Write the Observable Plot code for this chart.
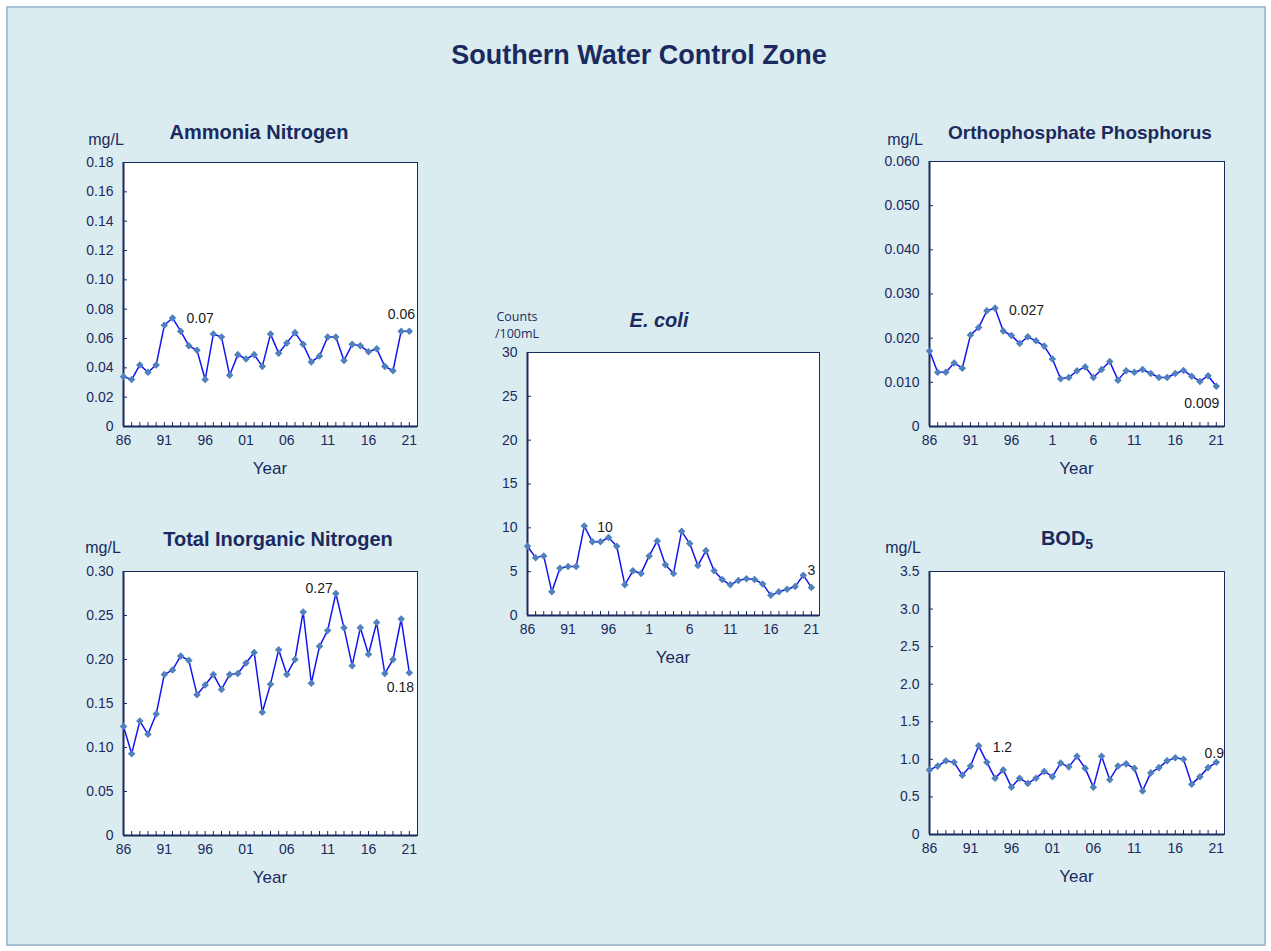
<!DOCTYPE html>
<html><head><meta charset="utf-8">
<script src="https://cdn.jsdelivr.net/npm/d3@7"></script>
<script src="https://cdn.jsdelivr.net/npm/@observablehq/plot@0.6"></script>
<style>
body{margin:0;background:#fff;font-family:"Liberation Sans",Arial,sans-serif;}
#bg{position:absolute;left:6px;top:6px;width:1256px;height:936px;background:#daecef;border:2px solid #a7c1d6;}
.t{position:absolute;color:#1b2a5e;white-space:nowrap;transform:translate(-50%,-50%);line-height:1;}
.b{font-weight:bold;}
</style></head><body>
<div id="bg"></div>
<div id="root"></div>
<script>
const years = [1986,1987,1988,1989,1990,1991,1992,1993,1994,1995,1996,1997,1998,1999,2000,2001,2002,2003,2004,2005,2006,2007,2008,2009,2010,2011,2012,2013,2014,2015,2016,2017,2018,2019,2020,2021];
const xTickYears = [1986,1991,1996,2001,2006,2011,2016,2021];
const xLabels2d = ["86","91","96","01","06","11","16","21"];
const xLabels1d = ["86","91","96","1","6","11","16","21"];

const ammonia = [0.034,0.032,0.042,0.037,0.042,0.069,0.074,0.065,0.055,0.052,0.032,0.063,0.061,0.035,0.049,0.046,0.049,0.041,0.063,0.050,0.057,0.064,0.056,0.044,0.048,0.061,0.061,0.045,0.056,0.055,0.051,0.053,0.041,0.038,0.065,0.065];
const ammoniaTicks = [0,0.02,0.04,0.06,0.08,0.10,0.12,0.14,0.16,0.18];

const ortho = [0.0171,0.0123,0.0123,0.0144,0.0132,0.0207,0.0224,0.0262,0.0268,0.0216,0.0206,0.0188,0.0203,0.0194,0.0182,0.0153,0.0108,0.0111,0.0126,0.0135,0.0111,0.0129,0.0147,0.0105,0.0126,0.0123,0.0129,0.0120,0.0111,0.0111,0.0120,0.0127,0.0114,0.0102,0.0115,0.0091];
const orthoTicks = [0,0.010,0.020,0.030,0.040,0.050,0.060];

const ecoli = [7.9,6.6,6.8,2.7,5.4,5.6,5.6,10.2,8.4,8.4,8.9,7.9,3.5,5.1,4.8,6.8,8.5,5.8,4.8,9.6,8.2,5.7,7.4,5.1,4.1,3.5,4.0,4.2,4.1,3.6,2.3,2.7,3.0,3.3,4.6,3.2];
const ecoliTicks = [0,5,10,15,20,25,30];

const tin = [0.124,0.093,0.130,0.115,0.138,0.183,0.188,0.204,0.199,0.160,0.171,0.183,0.166,0.183,0.184,0.196,0.208,0.140,0.172,0.211,0.183,0.200,0.254,0.173,0.215,0.233,0.275,0.236,0.193,0.236,0.206,0.242,0.184,0.200,0.246,0.185];
const tinTicks = [0,0.05,0.10,0.15,0.20,0.25,0.30];

const bod = [0.86,0.91,0.98,0.96,0.79,0.91,1.18,0.96,0.75,0.86,0.63,0.75,0.68,0.75,0.84,0.77,0.95,0.90,1.04,0.88,0.63,1.04,0.73,0.91,0.94,0.88,0.58,0.82,0.89,0.98,1.02,1.00,0.67,0.77,0.89,0.96];
const bodTicks = [0,0.5,1.0,1.5,2.0,2.5,3.0,3.5];

const navy = "#1b2a5e";
const diamond = {draw(ctx, size){ const r = Math.sqrt(size/2); ctx.moveTo(0,-r); ctx.lineTo(r,0); ctx.lineTo(0,r); ctx.lineTo(-r,0); ctx.closePath(); }};

const root = document.getElementById("root");
function addText(txt, x, y, size, cls, extra){
  const d = document.createElement("div");
  d.className = "t " + (cls||"");
  d.style.left = x+"px"; d.style.top = y+"px"; d.style.fontSize = size+"px";
  if (extra) Object.assign(d.style, extra);
  d.innerHTML = txt;
  root.appendChild(d);
}

function panel(cfg){
  const W = cfg.right - cfg.left, H = cfg.bottom - cfg.top;
  const pl = 60, pt = 15, pr = 20, pb = 30;
  const data = years.map((y,i)=>({year:y, v:cfg.values[i]}));
  const labels = cfg.labels.map(l => ({...l, v: cfg.values[years.indexOf(l.year)]}));
  const marks = [
    Plot.frame({fill:"white", stroke:navy, strokeWidth:1}),
    Plot.tickX(years, {x: d=>d, insetTop: H-4, stroke: navy}),
    Plot.tickY(cfg.yTicks, {y: d=>d, insetRight: W-4, stroke: navy}),
    Plot.ruleY([0], {stroke: navy, strokeWidth: 2}),
    Plot.ruleX([1986], {stroke: navy, strokeWidth: 2}),
    Plot.axisX({ticks: xTickYears, tickFormat: d => cfg.xLabels[xTickYears.indexOf(d)], tickSize: 0, tickPadding: 9, label: null, fill: navy, fontSize: 14}),
    Plot.axisY({ticks: cfg.yTicks, tickFormat: cfg.yFormat, tickSize: 0, tickPadding: 10, label: null, fill: navy, fontSize: 14}),
    Plot.line(data, {x:"year", y:"v", stroke:"#1414f0", strokeWidth:1.5}),
    Plot.dot(data, {x:"year", y:"v", symbol: diamond, r:3, fill:"#4f81bd", stroke:"none"})
  ];
  for (const l of labels) {
    marks.push(Plot.text([l], {x:"year", y:"v", text:"text", dx:l.dx, dy:l.dy, textAnchor:l.anchor, fill:"#1a1a1a", fontSize:14}));
  }
  const p = Plot.plot({
    width: W+pl+pr, height: H+pt+pb,
    marginLeft: pl, marginRight: pr, marginTop: pt, marginBottom: pb,
    x: {domain:[1986,2022]}, y: {domain:[0, cfg.max]},
    style: {background:"transparent", fontFamily:'"Liberation Sans", Arial, sans-serif', color: navy},
    marks
  });
  p.style.position = "absolute";
  p.style.left = (cfg.left-pl)+"px";
  p.style.top = (cfg.top-pt)+"px";
  root.appendChild(p);
  addText("Year", (cfg.left+cfg.right)/2, cfg.bottom+42, 17);
}

panel({left:123, top:162, right:417, bottom:426, max:0.18, values:ammonia, yTicks:ammoniaTicks,
  yFormat: d => d===0 ? "0" : d.toFixed(2), xLabels: xLabels2d,
  labels:[{year:1992, text:"0.07", dx:14, dy:1, anchor:"start"},{year:2021, text:"0.06", dx:-8, dy:-17, anchor:"middle"}]});
panel({left:929, top:161, right:1224, bottom:426, max:0.06, values:ortho, yTicks:orthoTicks,
  yFormat: d => d===0 ? "0" : d.toFixed(3), xLabels: xLabels1d,
  labels:[{year:1994, text:"0.027", dx:14, dy:2, anchor:"start"},{year:2021, text:"0.009", dx:3, dy:17, anchor:"end"}]});
panel({left:527, top:352, right:819, bottom:615, max:30, values:ecoli, yTicks:ecoliTicks,
  yFormat: d => String(d), xLabels: xLabels1d,
  labels:[{year:1993, text:"10", dx:13, dy:1, anchor:"start"},{year:2021, text:"3", dx:0, dy:-17, anchor:"middle"}]});
panel({left:123, top:571, right:417, bottom:835, max:0.30, values:tin, yTicks:tinTicks,
  yFormat: d => d===0 ? "0" : d.toFixed(2), xLabels: xLabels2d,
  labels:[{year:2012, text:"0.27", dx:-3, dy:-5, anchor:"end"},{year:2021, text:"0.18", dx:-9, dy:15, anchor:"middle"}]});
panel({left:929, top:571, right:1224, bottom:834, max:3.5, values:bod, yTicks:bodTicks,
  yFormat: d => d===0 ? "0" : d.toFixed(1), xLabels: xLabels2d,
  labels:[{year:1992, text:"1.2", dx:14, dy:2, anchor:"start"},{year:2021, text:"0.9", dx:-2, dy:-9, anchor:"middle"}]});

addText("Southern Water Control Zone", 639, 55, 27, "b");
addText("Ammonia Nitrogen", 259, 132, 20, "b");
addText("mg/L", 106, 140, 16);
addText("Orthophosphate Phosphorus", 1080, 132, 19, "b");
addText("mg/L", 905, 140, 16);
addText("<i>E. coli</i>", 659, 320, 20, "b");
addText("Counts", 517, 317, 12.5, "", {fontFamily:'"Open Sans", sans-serif'});
addText("/100mL", 517, 334, 12.5, "", {fontFamily:'"Open Sans", sans-serif'});
addText("Total Inorganic Nitrogen", 278, 539, 20, "b");
addText("mg/L", 103, 548, 16);
addText("BOD<sub style='font-size:14px;vertical-align:-4px'>5</sub>", 1067, 539, 20, "b");
addText("mg/L", 903, 548, 16);
</script>
</body></html>
